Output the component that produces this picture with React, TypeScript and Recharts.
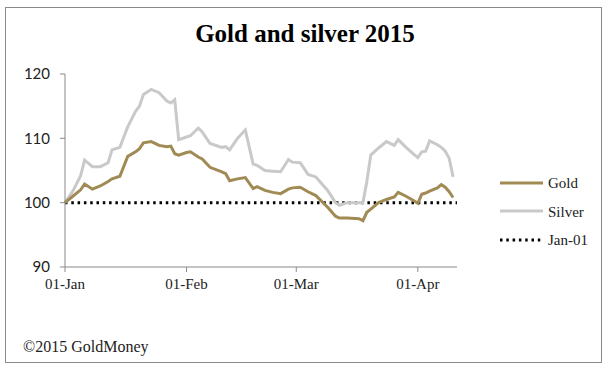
import React from 'react'
import { LineChart, Line, XAxis, YAxis, ReferenceLine } from 'recharts'

// day of year (0 = 01-Jan), indexed to 100 on Jan 1
const days = [
  0, 2, 4, 5, 7, 9, 11, 12, 14, 16, 18, 19, 20, 22, 24, 26, 27, 28, 29, 31,
  32, 34, 35, 37, 40, 41, 42, 44, 46, 48, 49, 51, 53, 55, 57, 58, 60, 62, 64,
  67, 69, 70, 72, 75, 76, 77, 78, 80, 82, 84, 85, 87, 89, 90, 91, 92, 93, 95,
  96, 97, 98, 99,
]
const gold = [
  100, 101.0, 102.0, 102.9, 102.1, 102.6, 103.3, 103.7, 104.1, 107.2, 107.9,
  108.4, 109.3, 109.5, 108.9, 108.7, 108.8, 107.6, 107.4, 107.8, 107.9, 107.1,
  106.8, 105.5, 104.8, 104.5, 103.4, 103.7, 103.9, 102.2, 102.5, 101.9, 101.6,
  101.4, 102.1, 102.3, 102.4, 101.7, 101.1, 99.3, 97.9, 97.6, 97.6, 97.5, 97.2,
  98.5, 99.0, 100.0, 100.5, 100.9, 101.6, 101.0, 100.3, 99.9, 101.3, 101.5,
  101.8, 102.3, 102.8, 102.4, 101.7, 100.8,
]
const silver = [
  100, 101.8, 104.2, 106.6, 105.6, 105.6, 106.2, 108.2, 108.6, 111.8, 114.2,
  115.0, 116.8, 117.6, 117.1, 115.8, 115.5, 116.0, 109.8, 110.2, 110.4, 111.6,
  111.0, 109.2, 108.6, 108.7, 108.2, 110.0, 111.3, 106.0, 105.8, 105.0, 104.9,
  104.8, 106.7, 106.3, 106.2, 104.4, 104.0, 101.9, 100.0, 99.6, 100.0, 100.0,
  100.0, 103.3, 107.4, 108.5, 109.5, 108.9, 109.8, 108.6, 107.5, 107.0, 107.9,
  108.0, 109.6, 109.0, 108.6, 108.0, 106.9, 104.0,
]

const xTicks = [0, 31, 59, 90]
const xLabels = ['01-Jan', '01-Feb', '01-Mar', '01-Apr']
const yTicks = [90, 100, 110, 120]
const baseline = 100

const GOLD = '#A08B55'
const SILVER = '#C9C9C9'
const serif = '"Liberation Serif", "Times New Roman", serif'

const data = days.map((d, i) => ({ day: d, gold: gold[i], silver: silver[i] }))

export default function App() {
  return (
    <div style={{ position: 'absolute', left: 0, top: 0, width: 610, height: 373, background: '#fff' }}>
      <div
        style={{
          position: 'absolute',
          left: 5,
          top: 7,
          width: 597,
          height: 356,
          border: '1px solid #8a8a8a',
          boxSizing: 'border-box',
        }}
      />
      <div
        style={{
          position: 'absolute',
          left: 0,
          top: 20,
          width: 610,
          textAlign: 'center',
          fontFamily: serif,
          fontWeight: 'bold',
          fontSize: 25,
        }}
      >
        Gold and silver 2015
      </div>
      <div style={{ position: 'absolute', left: 0, top: 0 }}>
        <LineChart width={610} height={373} data={data} margin={{ top: 74, right: 153, bottom: 76, left: 5 }}>
          <XAxis
            dataKey="day"
            type="number"
            domain={[0, 100]}
            ticks={xTicks}
            tickFormatter={(v: number) => xLabels[xTicks.indexOf(v)]}
            stroke="#8a8a8a"
            tickSize={5}
            tickMargin={6}
            tick={{ fill: '#222', fontFamily: serif, fontSize: 15 }}
          />
          <YAxis
            domain={[90, 120]}
            ticks={yTicks}
            width={60}
            stroke="#8a8a8a"
            tickSize={5}
            tickMargin={10}
            tick={{ fill: '#222', fontFamily: 'Lato, "Open Sans", sans-serif', fontSize: 15 }}
          />
          <ReferenceLine y={baseline} stroke="#000" strokeWidth={3} strokeDasharray="2.5 3.8" />
          <Line dataKey="silver" stroke={SILVER} strokeWidth={3} dot={false} isAnimationActive={false} />
          <Line dataKey="gold" stroke={GOLD} strokeWidth={3} dot={false} isAnimationActive={false} />
        </LineChart>
      </div>
      <svg style={{ position: 'absolute', left: 498, top: 174 }} width={50} height={76}>
        <line x1={2} x2={45} y1={9} y2={9} stroke={GOLD} strokeWidth={3} />
        <line x1={2} x2={45} y1={37} y2={37} stroke={SILVER} strokeWidth={3} />
        <line x1={2} x2={45} y1={66} y2={66} stroke="#000" strokeWidth={3} strokeDasharray="2.5 3.8" />
      </svg>
      {['Gold', 'Silver', 'Jan-01'].map((t, i) => (
        <div
          key={t}
          style={{
            position: 'absolute',
            left: 548,
            top: 173 + i * 28.5,
            fontFamily: serif,
            fontSize: 15,
            color: '#222',
            lineHeight: '20px',
          }}
        >
          {t}
        </div>
      ))}
      <div
        style={{
          position: 'absolute',
          left: 23,
          top: 338,
          fontFamily: serif,
          fontSize: 16,
          color: '#222',
        }}
      >
        ©2015 GoldMoney
      </div>
    </div>
  )
}
